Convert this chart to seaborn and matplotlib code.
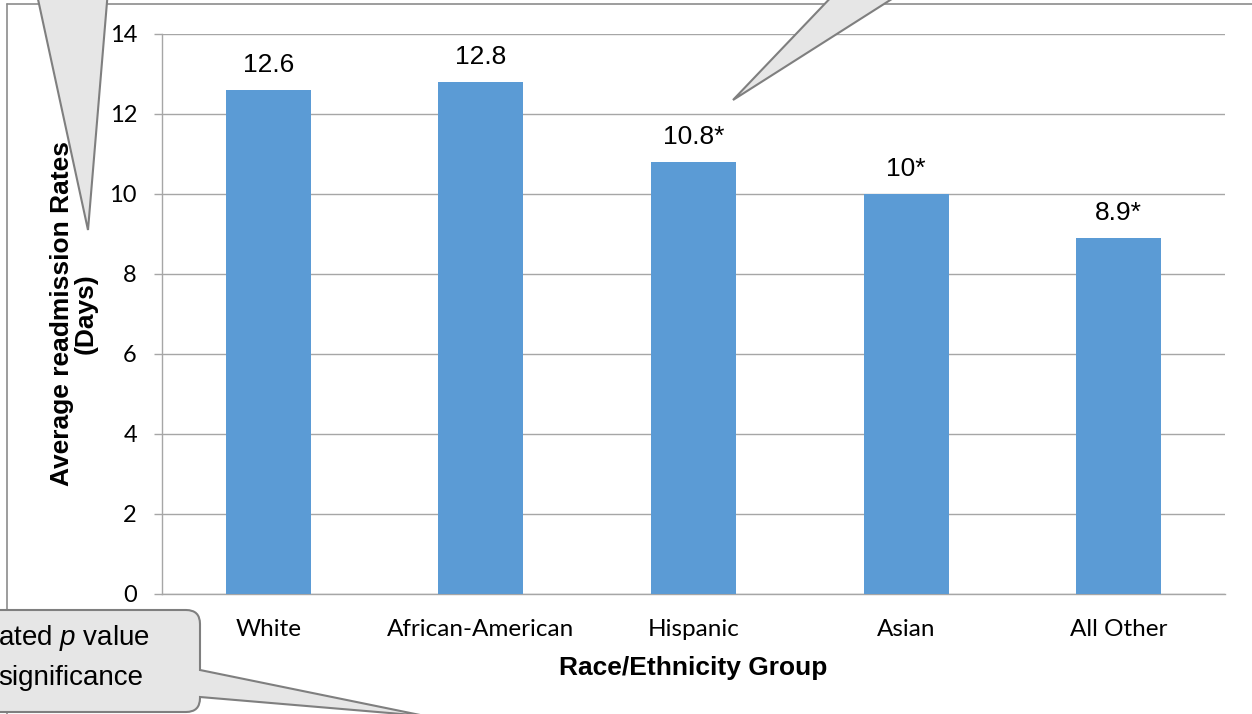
import matplotlib
matplotlib.use("Agg")
import matplotlib.pyplot as plt
import matplotlib.transforms as mtransforms
from matplotlib.path import Path
from matplotlib.patches import PathPatch, Polygon
import seaborn as sns
import pandas as pd

# ---- data ----
categories = ["White", "African-American", "Hispanic", "Asian", "All Other"]
values = [12.6, 12.8, 10.8, 10.0, 8.9]
value_labels = ["12.6", "12.8", "10.8*", "10*", "8.9*"]
y_ticks = [0, 2, 4, 6, 8, 10, 12, 14]
x_title = "Race/Ethnicity Group"
y_title = "Average readmission Rates\n(Days)"
note_lines = [r"ated $p$ value", "significance"]

sns.set_style("white")
plt.rcParams["font.family"] = ["Liberation Sans", "DejaVu Sans"]
plt.rcParams["text.color"] = "black"
plt.rcParams["axes.labelcolor"] = "black"
plt.rcParams["mathtext.fontset"] = "custom"
plt.rcParams["mathtext.rm"] = "Liberation Sans"
plt.rcParams["mathtext.it"] = "Liberation Sans:italic"

W, H = 1252, 714
fig = plt.figure(figsize=(W / 100, H / 100), dpi=100)
fig.patch.set_facecolor("white")

L, R, T, B = 162, 1225, 34, 594
ax = fig.add_axes([L / W, (H - B) / H, (R - L) / W, (B - T) / H])

df = pd.DataFrame({"group": categories, "value": values})
sns.barplot(data=df, x="group", y="value", color="#5B9BD5", saturation=1,
            width=0.4, ax=ax, zorder=3, linewidth=0, edgecolor="none")

grid_c = "#A6A6A6"
ax.set_ylim(0, 14)
ax.set_yticks(y_ticks)
ax.set_xlim(-0.5, len(categories) - 0.5)
ax.yaxis.grid(True, color=grid_c, linewidth=1.0, zorder=0)
ax.set_axisbelow(True)
for s in ["top", "right"]:
    ax.spines[s].set_visible(False)
for s in ["left", "bottom"]:
    ax.spines[s].set_color(grid_c)
    ax.spines[s].set_linewidth(1.0)

ax.tick_params(axis="y", length=6, width=1.0, color=grid_c, pad=12,
               labelsize=17, labelcolor="black", direction="out", left=True)
ax.tick_params(axis="x", length=0, pad=18, labelsize=17.5, labelcolor="black")
for lab in ax.get_xticklabels() + ax.get_yticklabels():
    lab.set_fontfamily(["Lato", "DejaVu Sans"])

ax.bar_label(ax.containers[0], labels=value_labels, padding=9, fontsize=19,
             color="black")

ax.set_xlabel(x_title, fontsize=19, fontweight="bold", color="black")
ax.xaxis.label.set_va("center")
ax.xaxis.set_label_coords(0.5, (B - 668) / (B - T))
ax.set_ylabel(y_title, fontsize=19, fontweight="bold", linespacing=1.0,
              color="black")
ax.yaxis.label.set_va("center")
ax.yaxis.set_label_coords((74 - L) / (R - L), 0.5)

# ---- decorations in pixel coordinates (top-down) ----
px = mtransforms.Affine2D().scale(1 / W, -1 / H).translate(0, 1) + fig.transFigure
edge_c = "#7F7F7F"
fill_c = "#E6E6E6"

# outer chart border
fig.add_artist(plt.Line2D([7, W + 5], [4, 4], transform=px, color="#8C8C8C", lw=1.2))
fig.add_artist(plt.Line2D([7, 7], [4, H + 5], transform=px, color="#8C8C8C", lw=1.2))

# top-left callout pointer
fig.add_artist(Polygon([(36, -10), (88, 230), (108, -10)], closed=True,
                       transform=px, facecolor=fill_c, edgecolor=edge_c, lw=1.5,
                       zorder=10))
# top-middle callout pointer
fig.add_artist(Polygon([(838, -10), (733, 100), (906, -10)], closed=True,
                       transform=px, facecolor=fill_c, edgecolor=edge_c, lw=1.5,
                       zorder=10))

# bottom-left callout with pointer
r = 14
verts = [(-20, 610), (200 - r, 610), (200, 610), (200, 610 + r), (200, 670),
         (425, 716), (200, 697), (200, 712 - r), (200, 712), (200 - r, 712),
         (-20, 712), (-20, 610)]
codes = [Path.MOVETO, Path.LINETO, Path.CURVE3, Path.CURVE3, Path.LINETO,
         Path.LINETO, Path.LINETO, Path.LINETO, Path.CURVE3, Path.CURVE3,
         Path.LINETO, Path.CLOSEPOLY]
fig.add_artist(PathPatch(Path(verts, codes), transform=px, facecolor=fill_c,
                         edgecolor=edge_c, lw=1.5, zorder=10))
fig.text(150, 645, note_lines[0], transform=px, ha="right", va="baseline",
         fontsize=20, color="black", zorder=11)
fig.text(143, 685, note_lines[1], transform=px, ha="right", va="baseline",
         fontsize=20, color="black", zorder=11)

fig.savefig("out.png", dpi=100)
